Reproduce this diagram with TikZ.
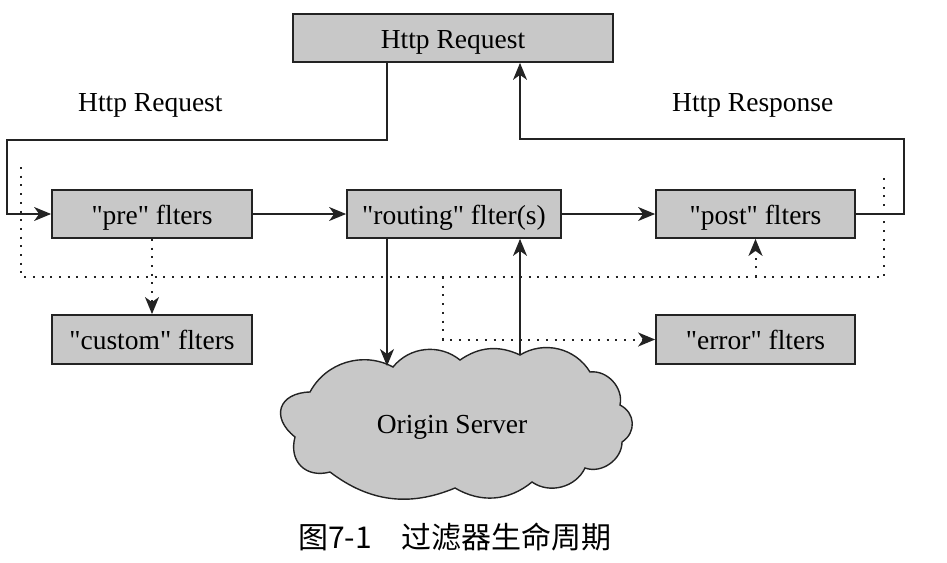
\documentclass[tikz,border=0pt]{standalone}
\usepackage{fontspec}
\newfontfamily\tms{Liberation Serif}
\newfontfamily\cjk{Noto Sans CJK SC}
\usetikzlibrary{arrows.meta}
\definecolor{boxgray}{RGB}{200,200,200}
\definecolor{inkdark}{RGB}{35,35,35}
\begin{document}
\begin{tikzpicture}[x=1pt,y=1pt,
  box/.style={draw=inkdark, line width=1.8pt, fill=boxgray, inner sep=0pt,
    text height=20.6pt, text depth=0pt, font=\tms\fontsize{27.5}{30}\selectfont,
    minimum height=48pt},
  conn/.style={line width=1.3pt, draw=inkdark},
  arr/.style={-{Stealth[length=17pt,width=14pt,inset=5pt]}},
  dotline/.style={line width=2pt, dash pattern=on 2pt off 6.7pt, draw=inkdark},
  lbl/.style={font=\tms\fontsize{27.5}{30}\selectfont, anchor=base west, inner sep=0pt},
  cloudline/.style={line width=1.4pt, draw=inkdark, fill=boxgray}]
\useasboundingbox (0,0) rectangle (947,-562);
% boxes
\node[box, minimum width=320pt] (top) at (453,-38) {Http Request};
\node[box, minimum width=200pt] (pre) at (152,-214) {"pre" flters};
\node[box, minimum width=214pt] (routing) at (454,-214) {"routing" flter(s)};
\node[box, minimum width=199pt] (post) at (755.5,-214) {"post" flters};
\node[box, minimum width=200pt, minimum height=49pt] (custom) at (152,-339.5) {"custom" flters};
\node[box, minimum width=199pt, minimum height=49pt] (error) at (755.5,-339.5) {"error" flters};
% labels
\node[lbl] (lreq) at (78,-111) {Http Request};
\node[lbl] (lres) at (672,-111) {Http Response};
% cloud
\draw[cloudline] (393,-367) to[bend right=45] (310,-392)
  to[bend right=70, looseness=1.7] (295,-437)
  to[bend right=60, looseness=1.3] (330,-472)
  to[bend right=30] (455,-488)
  to[bend right=35] (532,-482)
  to[bend right=50] (585,-468)
  to[bend right=55] (622,-442)
  to[bend right=60, looseness=1.2] (620,-405)
  to[bend right=55] (590,-372)
  to[bend right=45] (520,-355)
  to[bend right=30] (460,-360)
  to[bend right=45] (393,-367) -- cycle;
\node[lbl, anchor=base] (origin) at (452,-433) {Origin Server};
\coordinate (cin) at (387,-366);
\coordinate (cout) at (520,-355);
% solid connectors
\draw[conn,arr] (top.south -| cin) -- ++(0,-77) -| ([xshift=-44pt]pre.west) -- (pre.west);
\draw[conn,arr] (pre.east) -- (routing.west);
\draw[conn,arr] (routing.east) -- (post.west);
\draw[conn,arr] (post.east) -- ++(48,0) -- ++(0,75) -| (top.south -| cout);
\draw[conn,arr] (routing.south -| cin) -- (cin);
\draw[conn,arr] (cout) -- (cout |- routing.south);
% dotted connectors
\coordinate (dl) at (21,-167);
\coordinate (dbl) at (21,-277);
\coordinate (dbr) at (884,-277);
\coordinate (dr) at (884,-175);
\coordinate (de) at (443,-277);
\draw[dotline] (dl) -- (dbl) -- (dbr) -- (dr);
\draw[dotline,arr] (pre) -- (custom);
\draw[dotline,arr] (post.south |- dbl) -- (post.south);
\draw[dotline,arr] (de) |- (error.west);
% caption
\node[font=\cjk\fontsize{30}{34}\selectfont, inner sep=0pt] (cap) at (455,-537) {图7-1　过滤器生命周期};
\end{tikzpicture}
\end{document}
